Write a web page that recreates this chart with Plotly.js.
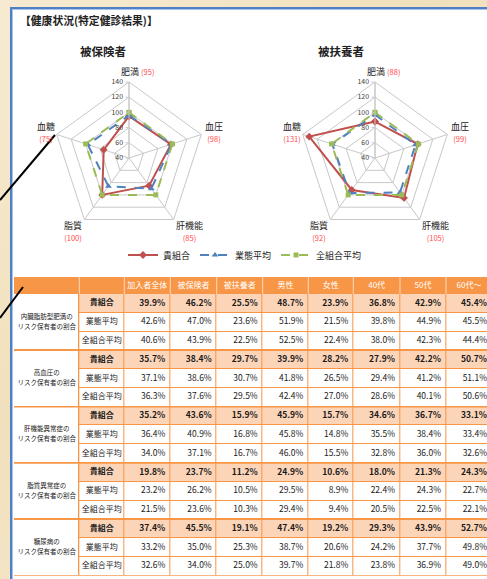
<!DOCTYPE html>
<html>
<head>
<meta charset="utf-8">
<script src="https://cdn.plot.ly/plotly-3.0.1.min.js"></script>
<style>
  html, body { margin: 0; padding: 0; width: 487px; height: 579px; overflow: hidden; }
  body { background: linear-gradient(135deg, #f6ebd2 0%, #f1e0bc 40%, #f5e8cc 70%, #efdcb6 100%); position: relative; }
  #panel { position: absolute; left: 10px; top: 7px; width: 520px; height: 600px; background: #fff;
    border-left: 2px solid #4f7fc4; border-top: 2px solid #4f7fc4; box-shadow: inset 1px 1px 0 #a9c4ea; }
  #chart { position: absolute; left: 0; top: 0; width: 500px; height: 579px; }
</style>
</head>
<body>
<div id="panel"></div>
<div id="chart"></div>
<script>
  // radar: index vs all-union average (=100)
  var axes = ["肥満", "血圧", "肝機能", "脂質", "血糖"];
  var insOwn = [95, 98, 85, 100, 75];
  var insInd = [96, 99, 90, 86, 97];
  var insAll = [100, 100, 100, 100, 100];
  var depOwn = [88, 99, 105, 92, 131];
  var depInd = [97, 96, 96, 97, 99];
  var depAll = [100, 100, 100, 100, 100];
  var seriesNames = ["貴組合", "業態平均", "全組合平均"];

  // table
  var colHeads = ["加入者全体", "被保険者", "被扶養者", "男性", "女性", "40代", "50代", "60代～"];
  var groupLabels = [
    "内臓脂肪型肥満の<br>リスク保有者の割合",
    "高血圧の<br>リスク保有者の割合",
    "肝機能異常症の<br>リスク保有者の割合",
    "脂質異常症の<br>リスク保有者の割合",
    "糖尿病の<br>リスク保有者の割合",
  ];
  var obesity = [
    [39.9, 46.2, 25.5, 48.7, 23.9, 36.8, 42.9, 45.4],
    [42.6, 47.0, 23.6, 51.9, 21.5, 39.8, 44.9, 45.5],
    [40.6, 43.9, 22.5, 52.5, 22.4, 38.0, 42.3, 44.4],
  ];
  var pressure = [
    [35.7, 38.4, 29.7, 39.9, 28.2, 27.9, 42.2, 50.7],
    [37.1, 38.6, 30.7, 41.8, 26.5, 29.4, 41.2, 51.1],
    [36.3, 37.6, 29.5, 42.4, 27.0, 28.6, 40.1, 50.6],
  ];
  var liver = [
    [35.2, 43.6, 15.9, 45.9, 15.7, 34.6, 36.7, 33.1],
    [36.4, 40.9, 16.8, 45.8, 14.8, 35.5, 38.4, 33.4],
    [34.0, 37.1, 16.7, 46.0, 15.5, 32.8, 36.0, 32.6],
  ];
  var lipid = [
    [19.8, 23.7, 11.2, 24.9, 10.6, 18.0, 21.3, 24.3],
    [23.2, 26.2, 10.5, 29.5, 8.9, 22.4, 24.3, 22.7],
    [21.5, 23.6, 10.3, 29.4, 9.4, 20.5, 22.5, 22.1],
  ];
  var glucose = [
    [37.4, 45.5, 19.1, 47.4, 19.2, 29.3, 43.9, 52.7],
    [33.2, 35.0, 25.3, 38.7, 20.6, 24.2, 37.7, 49.8],
    [32.6, 34.0, 25.0, 39.7, 21.8, 23.8, 36.9, 49.0],
  ];

  var W = 500, H = 579;
  var FONT = "'Noto Sans CJK JP', 'Noto Sans', sans-serif";
  var RED = "#c0504d", BLUE = "#4f81bd", GREEN = "#9bbb59", ORANGE = "#f79646";
  var SALMON = "#fcd5b9";

  function px(x) { return x / W; }
  function py(y) { return 1 - y / H; }
  function closed(a) { return a.concat([a[0]]); }

  // ---- radar ----
  var radarCY = 158, radarR = 76;
  // label centre offsets around the radar centre (top label has its number inline)
  var labelOffsets = [[8, -87], [85, -26], [60, 73], [-56, 73], [-83, -26]];

  function radarTraces(sub, own, ind, all, legend) {
    var th = closed(axes);
    return [
      { type: "scatterpolar", subplot: sub, name: seriesNames[0], r: closed(own), theta: th,
        mode: "lines+markers", line: { color: RED, width: 2 },
        marker: { symbol: "diamond", size: 6, color: RED }, showlegend: legend },
      { type: "scatterpolar", subplot: sub, name: seriesNames[1], r: closed(ind), theta: th,
        mode: "lines+markers", line: { color: BLUE, width: 2, dash: "dash" },
        marker: { symbol: "triangle-up", size: 6, color: BLUE }, showlegend: legend },
      { type: "scatterpolar", subplot: sub, name: seriesNames[2], r: closed(all), theta: th,
        mode: "lines+markers", line: { color: GREEN, width: 2, dash: "dash" },
        marker: { symbol: "square", size: 5, color: GREEN }, showlegend: legend },
    ];
  }

  function polarLayout(cx) {
    return {
      domain: { x: [px(cx - radarR), px(cx + radarR)], y: [py(radarCY + radarR), py(radarCY - radarR)] },
      bgcolor: "rgba(0,0,0,0)",
      gridshape: "linear",
      radialaxis: {
        range: [40, 140], tickvals: [40, 60, 80, 100, 120, 140], angle: 90, tickangle: 90,
        side: "counterclockwise",
        tickfont: { size: 7, color: "#404040" }, gridcolor: "#c8c8c8",
        showline: true, linecolor: "#c8c8c8", ticks: "outside", ticklen: 3, tickcolor: "#c8c8c8",
      },
      angularaxis: {
        rotation: 90, direction: "clockwise", gridcolor: "#c8c8c8", linecolor: "#c8c8c8",
        showticklabels: false, ticks: "",
      },
    };
  }

  function radarLabels(cx, own) {
    return axes.map(function (a, i) {
      var o = labelOffsets[i];
      var num = '<span style="color:#ff4b4b;font-size:7.5px">(' + own[i] + ")</span>";
      return { text: a + (i === 0 ? " " : "<br>") + num,
        x: px(cx + o[0]), y: py(radarCY + o[1]), xref: "paper", yref: "paper",
        showarrow: false, xanchor: "center", yanchor: "middle", align: "center",
        font: { size: 9, color: "#222" } };
    });
  }

  // ---- table (drawn on a hidden cartesian axis: x in px columns, y in row units) ----
  var colEdges = [14, 79.3, 124.3, 170.3, 216.7, 262.7, 308.3, 353.3, 400, 446, 492];
  var tblTop = 277, tblBot = 575.7, nRows = 15;
  var rowPx = (tblBot - 294) / nRows;
  var headRows = (294 - tblTop) / rowPx;

  var groups = [obesity, pressure, liver, lipid, glucose];
  var zBody = [], rowY = [], kindText = [], kindX = [];
  var valX = [], valY = [], valText = [];
  var rowIdx = 0;
  groups.forEach(function (g) {
    g.forEach(function (row, k) {
      var zr = [];
      for (var c = 0; c < 9; c++) zr.push(k === 0 ? 1 : 0);
      zBody.push(zr);
      var yc = rowIdx + 0.5;
      kindX.push((colEdges[1] + colEdges[2]) / 2);
      rowY.push(yc);
      kindText.push(k === 0 ? "<b>" + seriesNames[0] + "</b>" : seriesNames[k]);
      row.forEach(function (v, c) {
        var s = v.toFixed(1) + "%";
        valX.push(colEdges[c + 3] - 5);
        valY.push(yc);
        valText.push(k === 0 ? "<b>" + s + "</b>" : s);
      });
      rowIdx++;
    });
  });
  var bodyYEdges = [];
  for (var i = 0; i <= nRows; i++) bodyYEdges.push(i);

  // group label lines, one text trace per line so they sit 10px apart
  var groupX = (colEdges[0] + colEdges[1]) / 2;
  var lineGap = 5 / rowPx;
  var groupLine = [[], []];
  groupLabels.forEach(function (g) {
    var parts = g.split("<br>");
    groupLine[0].push(parts[0]);
    groupLine[1].push(parts[1]);
  });
  function groupTextTrace(lines, dy) {
    return { type: "scatter", mode: "text", x: lines.map(function () { return groupX; }),
      y: lines.map(function (t, j) { return j * 3 + 1.5 + dy; }), text: lines,
      textposition: "middle center", cliponaxis: false, hoverinfo: "skip", showlegend: false,
      textfont: { family: FONT, size: 6.5, color: "#222" } };
  }

  var scaleZ = [[0, "#ffffff"], [0.5, SALMON], [1, ORANGE]];
  function brick(x, y, z) {
    return { type: "heatmap", x: x, y: y, z: z, zmin: 0, zmax: 2, colorscale: scaleZ,
      showscale: false, xgap: 1, ygap: 1, hoverinfo: "skip" };
  }
  var headCenters = [];
  for (var c = 0; c < 8; c++) headCenters.push((colEdges[c + 2] + colEdges[c + 3]) / 2);

  var tableTraces = [
    brick(colEdges.slice(1), bodyYEdges, zBody),
    brick(colEdges.slice(0, 2), [0, 3, 6, 9, 12, 15], [[0], [0], [0], [0], [0]]),
    brick(colEdges, [-headRows, 0], [[2, 2, 2, 2, 2, 2, 2, 2, 2, 2]]),
    { type: "scatter", mode: "text", x: headCenters, y: headCenters.map(function () { return -headRows / 2; }),
      text: colHeads, textposition: "middle center", cliponaxis: false, hoverinfo: "skip", showlegend: false,
      textfont: { family: FONT, size: 8, color: "#ffffff" } },
    groupTextTrace(groupLine[0], -lineGap),
    groupTextTrace(groupLine[1], lineGap),
    { type: "scatter", mode: "text", x: kindX, y: rowY, text: kindText,
      textposition: "middle center", cliponaxis: false, hoverinfo: "skip", showlegend: false,
      textfont: { family: FONT, size: 8, color: "#222" } },
    { type: "scatter", mode: "text", x: valX, y: valY, text: valText,
      textposition: "middle left", cliponaxis: false, hoverinfo: "skip", showlegend: false,
      textfont: { family: FONT, size: 8.5, color: "#1a1a1a" } },
  ];

  var tableShapes = [];
  // light separators inside the orange header
  colEdges.slice(1, 10).forEach(function (x) {
    tableShapes.push({ type: "line", xref: "x", yref: "y", x0: x, x1: x, y0: -headRows, y1: 0,
      line: { color: "#fcd9bd", width: 1 } });
  });
  // heavier lines between groups
  [3, 6, 9, 12].forEach(function (y) {
    tableShapes.push({ type: "line", xref: "x", yref: "y", x0: colEdges[0], x1: colEdges[10], y0: y, y1: y,
      line: { color: ORANGE, width: 1.5 } });
  });

  var data = []
    .concat(radarTraces("polar", insOwn, insInd, insAll, true))
    .concat(radarTraces("polar2", depOwn, depInd, depAll, false))
    .concat(tableTraces);

  var layout = {
    width: W, height: H,
    margin: { l: 0, r: 0, t: 0, b: 0 },
    paper_bgcolor: "rgba(0,0,0,0)",
    plot_bgcolor: ORANGE,
    font: { family: FONT, color: "#222" },
    polar: polarLayout(129),
    polar2: polarLayout(375),
    xaxis: { domain: [px(colEdges[0]), px(colEdges[10])], range: [colEdges[0], colEdges[10]],
      visible: false, fixedrange: true },
    yaxis: { domain: [py(tblBot), py(tblTop)], range: [nRows, -headRows],
      visible: false, fixedrange: true },
    showlegend: true,
    legend: {
      orientation: "h", x: px(245), xanchor: "center", y: py(255), yanchor: "middle",
      font: { size: 9, color: "#222" }, bgcolor: "rgba(0,0,0,0)", itemwidth: 30,
    },
    annotations: [
      { text: "<b>【健康状況(特定健診結果)】</b>", x: px(18), y: py(20), xref: "paper", yref: "paper",
        xanchor: "left", yanchor: "middle", showarrow: false, font: { size: 10.8, color: "#222" } },
      { text: "<b>被保険者</b>", x: px(103), y: py(51), xref: "paper", yref: "paper",
        xanchor: "center", yanchor: "middle", showarrow: false, font: { size: 11.5, color: "#222" } },
      { text: "<b>被扶養者</b>", x: px(341), y: py(51), xref: "paper", yref: "paper",
        xanchor: "center", yanchor: "middle", showarrow: false, font: { size: 11.5, color: "#222" } },
    ].concat(radarLabels(129, insOwn)).concat(radarLabels(375, depOwn)),
    shapes: [
      // callout pointer lines coming in from the left
      { type: "line", xref: "paper", yref: "paper", x0: px(0), y0: py(200), x1: px(55), y1: py(135),
        line: { color: "#000", width: 2 } },
      { type: "line", xref: "paper", yref: "paper", x0: px(0), y0: py(318), x1: px(23), y1: py(287),
        line: { color: "#000", width: 2 } },
    ].concat(tableShapes),
  };

  Plotly.newPlot("chart", data, layout, { displayModeBar: false, staticPlot: true });
</script>
</body>
</html>
